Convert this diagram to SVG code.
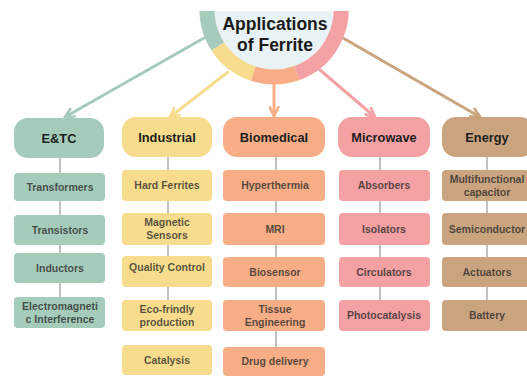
<svg xmlns="http://www.w3.org/2000/svg" width="527" height="377" viewBox="0 0 527 377">
  <style>
    .title { font-family: "Liberation Sans", Arial, sans-serif; font-weight: bold; font-size: 17.5px; fill: #1a1a1a; text-anchor: middle; }
    .head { font-family: "Liberation Sans", Arial, sans-serif; font-weight: bold; font-size: 12.8px; fill: #1e1e1e; text-anchor: middle; }
    .item { font-family: "Liberation Sans", Arial, sans-serif; font-weight: bold; font-size: 10.5px; fill: #2a2a2a; fill-opacity: 0.78; text-anchor: middle; }
    .link { stroke: #9a9a9a; stroke-width: 1.2; fill: none; }
    .arrow { stroke-width: 3; fill: none; stroke-linecap: round; }
    .ring { fill: none; stroke-width: 15; }
    .g { fill: #a5cbba; } .y { fill: #f8dc8d; } .o { fill: #f7ae86; } .p { fill: #f4a1a3; } .t { fill: #caa47f; }
  </style>
  <defs>
    <clipPath id="cut"><rect x="0" y="11" width="527" height="366"/></clipPath>
    <marker id="mg" viewBox="0 0 10 10" refX="9" refY="5" markerWidth="11" markerHeight="11" markerUnits="userSpaceOnUse" orient="auto"><path d="M1,1 L9,5 L1,9" fill="none" stroke="#a5cbba" stroke-width="2.4" stroke-linecap="round" stroke-linejoin="round"/></marker>
    <marker id="my" viewBox="0 0 10 10" refX="9" refY="5" markerWidth="11" markerHeight="11" markerUnits="userSpaceOnUse" orient="auto"><path d="M1,1 L9,5 L1,9" fill="none" stroke="#f8dc8d" stroke-width="2.4" stroke-linecap="round" stroke-linejoin="round"/></marker>
    <marker id="mo" viewBox="0 0 10 10" refX="9" refY="5" markerWidth="11" markerHeight="11" markerUnits="userSpaceOnUse" orient="auto"><path d="M1,1 L9,5 L1,9" fill="none" stroke="#f7ae86" stroke-width="2.4" stroke-linecap="round" stroke-linejoin="round"/></marker>
    <marker id="mp" viewBox="0 0 10 10" refX="9" refY="5" markerWidth="11" markerHeight="11" markerUnits="userSpaceOnUse" orient="auto"><path d="M1,1 L9,5 L1,9" fill="none" stroke="#f4a1a3" stroke-width="2.4" stroke-linecap="round" stroke-linejoin="round"/></marker>
    <marker id="mt" viewBox="0 0 10 10" refX="9" refY="5" markerWidth="11" markerHeight="11" markerUnits="userSpaceOnUse" orient="auto"><path d="M1,1 L9,5 L1,9" fill="none" stroke="#caa47f" stroke-width="2.4" stroke-linecap="round" stroke-linejoin="round"/></marker>
  </defs>

  <rect width="527" height="377" fill="#ffffff"/>

  <!-- connectors: hub arrows and column links -->
  <g id="connectors">
    <line class="arrow" x1="204" y1="38" x2="65" y2="117" stroke="#a5cbba" marker-end="url(#mg)"/>
    <line class="arrow" x1="228" y1="72" x2="170" y2="117" stroke="#f8dc8d" marker-end="url(#my)"/>
    <line class="arrow" x1="274" y1="84" x2="274" y2="116" stroke="#f7ae86" marker-end="url(#mo)"/>
    <line class="arrow" x1="320" y1="70" x2="375" y2="117" stroke="#f4a1a3" marker-end="url(#mp)"/>
    <line class="arrow" x1="343" y1="38" x2="480" y2="117" stroke="#caa47f" marker-end="url(#mt)"/>

    <path class="link" d="M60,158 V173 M60,201 V215 M60,245 V253 M60,283 V297"/>
    <path class="link" d="M168,157 V170 M168,201 V213 M168,245 V256 M168,287 V300"/>
    <path class="link" d="M276,157 V170 M276,201 V213 M276,245 V257 M276,287 V300 M276,331 V347"/>
    <path class="link" d="M380,157 V170 M380,201 V213 M380,245 V257 M380,287 V300"/>
    <path class="link" d="M487,157 V170 M487,201 V213 M487,245 V257 M487,287 V300"/>
  </g>

  <!-- central hub -->
  <g id="hub" clip-path="url(#cut)">
    <circle cx="274" cy="10" r="60" fill="#e9f2f4"/>
    <path class="ring" stroke="#a5cbba" d="M217.8,46.5 A67,67 0 0 1 211.0,-12.9"/>
    <path class="ring" stroke="#f8dc8d" d="M253.3,73.7 A67,67 0 0 1 217.8,46.5"/>
    <path class="ring" stroke="#f7ae86" d="M296.9,73.0 A67,67 0 0 1 253.3,73.7"/>
    <path class="ring" stroke="#f4a1a3" d="M337.0,-12.9 A67,67 0 0 1 296.9,73.0"/>
    <text class="title" x="275" y="30">Applications</text>
    <text class="title" x="275" y="51">of Ferrite</text>
  </g>

  <!-- E&TC column -->
  <g id="etc">
    <rect class="g" x="14" y="118" width="90" height="40" rx="14"/>
    <text class="head" x="59" y="142.5">E&amp;TC</text>
  </g>
  <g id="transformers"><rect class="g" x="14" y="173" width="91" height="28" rx="4"/><text class="item" x="60" y="191">Transformers</text></g>
  <g id="transistors"><rect class="g" x="14" y="215" width="91" height="30" rx="4"/><text class="item" x="60" y="234">Transistors</text></g>
  <g id="inductors"><rect class="g" x="14" y="253" width="91" height="30" rx="4"/><text class="item" x="60" y="272">Inductors</text></g>
  <g id="emi"><rect class="g" x="14" y="297" width="91" height="31" rx="4"/><text class="item" x="60" y="310">Electromagneti</text><text class="item" x="60" y="323">c Interference</text></g>

  <!-- Industrial column -->
  <g id="industrial">
    <rect class="y" x="122" y="117" width="90" height="40" rx="14"/>
    <text class="head" x="167" y="141.5">Industrial</text>
  </g>
  <g id="hard-ferrites"><rect class="y" x="122" y="170" width="90" height="31" rx="4"/><text class="item" x="167" y="189">Hard Ferrites</text></g>
  <g id="magnetic-sensors"><rect class="y" x="122" y="213" width="90" height="32" rx="4"/><text class="item" x="167" y="226">Magnetic</text><text class="item" x="167" y="239">Sensors</text></g>
  <g id="quality-control"><rect class="y" x="122" y="256" width="90" height="31" rx="4"/><text class="item" x="167" y="271">Quality Control</text></g>
  <g id="eco-production"><rect class="y" x="122" y="300" width="90" height="31" rx="4"/><text class="item" x="167" y="313">Eco-frindly</text><text class="item" x="167" y="326">production</text></g>
  <g id="catalysis"><rect class="y" x="122" y="345" width="90" height="30" rx="4"/><text class="item" x="167" y="364">Catalysis</text></g>

  <!-- Biomedical column -->
  <g id="biomedical">
    <rect class="o" x="223" y="117" width="102" height="40" rx="14"/>
    <text class="head" x="274" y="141.5">Biomedical</text>
  </g>
  <g id="hyperthermia"><rect class="o" x="223" y="170" width="102" height="31" rx="4"/><text class="item" x="275" y="189">Hyperthermia</text></g>
  <g id="mri"><rect class="o" x="223" y="213" width="102" height="32" rx="4"/><text class="item" x="275" y="233">MRI</text></g>
  <g id="biosensor"><rect class="o" x="223" y="257" width="102" height="30" rx="4"/><text class="item" x="275" y="276">Biosensor</text></g>
  <g id="tissue-engineering"><rect class="o" x="223" y="300" width="102" height="31" rx="4"/><text class="item" x="275" y="313">Tissue</text><text class="item" x="275" y="326">Engineering</text></g>
  <g id="drug-delivery"><rect class="o" x="223" y="347" width="102" height="29" rx="4"/><text class="item" x="275" y="365">Drug delivery</text></g>

  <!-- Microwave column -->
  <g id="microwave">
    <rect class="p" x="338" y="117" width="92" height="40" rx="14"/>
    <text class="head" x="384" y="141.5">Microwave</text>
  </g>
  <g id="absorbers"><rect class="p" x="339" y="170" width="91" height="31" rx="4"/><text class="item" x="384" y="189">Absorbers</text></g>
  <g id="isolators"><rect class="p" x="339" y="213" width="91" height="32" rx="4"/><text class="item" x="384" y="233">Isolators</text></g>
  <g id="circulators"><rect class="p" x="339" y="257" width="91" height="30" rx="4"/><text class="item" x="384" y="276">Circulators</text></g>
  <g id="photocatalysis"><rect class="p" x="339" y="300" width="91" height="31" rx="4"/><text class="item" x="384" y="319">Photocatalysis</text></g>

  <!-- Energy column -->
  <g id="energy">
    <rect class="t" x="442" y="117" width="92" height="40" rx="14"/>
    <text class="head" x="487" y="141.5">Energy</text>
  </g>
  <g id="multifunctional-capacitor"><rect class="t" x="442" y="170" width="92" height="31" rx="4"/><text class="item" x="487" y="183">Multifunctional</text><text class="item" x="487" y="196">capacitor</text></g>
  <g id="semiconductor"><rect class="t" x="442" y="213" width="92" height="32" rx="4"/><text class="item" x="487" y="233">Semiconductor</text></g>
  <g id="actuators"><rect class="t" x="442" y="257" width="92" height="30" rx="4"/><text class="item" x="487" y="276">Actuators</text></g>
  <g id="battery"><rect class="t" x="442" y="300" width="92" height="31" rx="4"/><text class="item" x="487" y="319">Battery</text></g>
</svg>
